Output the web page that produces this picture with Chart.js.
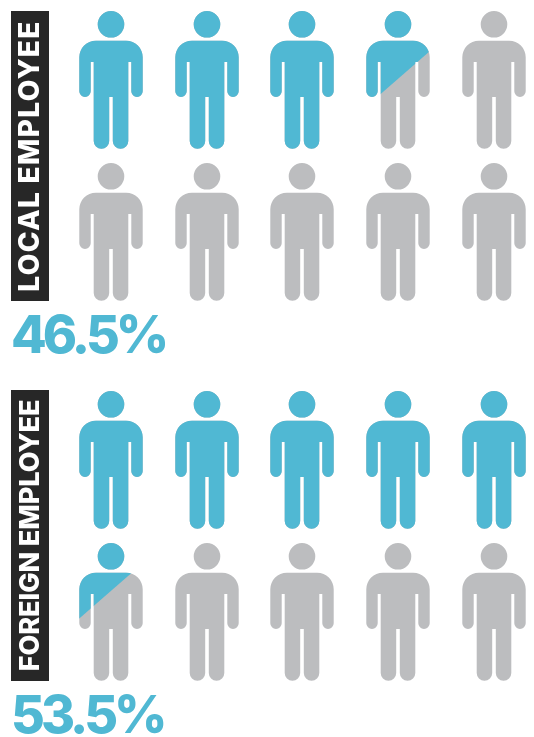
<!DOCTYPE html>
<html><head><meta charset="utf-8">
<style>html,body{margin:0;padding:0;background:#fff;overflow:hidden}
canvas{position:absolute;left:0;display:block}</style>
<script src="https://cdn.jsdelivr.net/npm/chart.js@4"></script></head>
<body>
<canvas id="c0" width="534" height="357" style="top:0;width:534px;height:357px"></canvas>
<canvas id="c1" width="534" height="357" style="top:380px;width:534px;height:357px"></canvas>
<script>
const groupNames = ['LOCAL EMPLOYEE', 'FOREIGN EMPLOYEE'];
const shareLabels = ['46.5%', '53.5%'];
const filledIcons = [3.65, 5.35];
const columns = [0, 1, 2, 3, 4];
const rows = [0, 1];

const BLUE = '#50b8d3', GREY = '#bcbdbf', DARK = '#272727';
const IW = 66, IH = 140, CX = 33, TOP = 1;
const nameSpacing = ['1.35px', '-0.05px'];
const nameSize = [28, 27];
const yMin = [-0.45, -0.457];
const yMax = [1.45, 1.451];

function personPath(c) {
  const t = y => TOP + y;
  c.beginPath();
  c.arc(CX, t(13.3), 13.3, 0, Math.PI * 2);
  c.closePath();
  const X = x => CX + x;
  const y0 = t(29.7), armpit = t(51), armEnd = t(86), crotch = t(86), foot = t(137.7);
  const R = 16.5;
  c.moveTo(X(-15), y0);
  c.lineTo(X(15), y0);
  c.arcTo(X(31.7), y0, X(31.7), y0 + R, R);
  c.lineTo(X(31.7), armEnd - 5.7);
  c.arc(X(26), armEnd - 5.7, 5.7, 0, Math.PI);
  c.lineTo(X(20.3), armpit);
  c.lineTo(X(17.3), armpit);
  c.lineTo(X(17.3), foot - 7.75);
  c.arc(X(9.55), foot - 7.75, 7.75, 0, Math.PI);
  c.lineTo(X(1.8), crotch);
  c.lineTo(X(-1.8), crotch);
  c.lineTo(X(-1.8), foot - 7.75);
  c.arc(X(-9.55), foot - 7.75, 7.75, 0, Math.PI);
  c.lineTo(X(-17.3), armpit);
  c.lineTo(X(-20.3), armpit);
  c.lineTo(X(-20.3), armEnd - 5.7);
  c.arc(X(-26), armEnd - 5.7, 5.7, 0, Math.PI);
  c.lineTo(X(-31.7), y0 + R);
  c.arcTo(X(-31.7), y0, X(-15), y0, R);
  c.closePath();
}

function makeIcon(fill) {
  const cv = document.createElement('canvas');
  cv.width = IW; cv.height = IH;
  const c = cv.getContext('2d');
  personPath(c);
  c.fillStyle = GREY;
  c.fill();
  if (fill > 0) {
    c.save();
    personPath(c);
    c.clip();
    c.fillStyle = BLUE;
    if (fill >= 1) {
      c.fillRect(0, 0, IW, IH);
    } else {
      const slope = -0.87;
      const mid = TOP + 47.8 + (fill - 0.35) * 67;
      c.beginPath();
      c.moveTo(0, 0);
      c.lineTo(IW, 0);
      c.lineTo(IW, mid + slope * (IW - CX));
      c.lineTo(0, mid + slope * (0 - CX));
      c.closePath();
      c.fill();
    }
    c.restore();
  }
  return cv;
}

const backing = {
  id: 'backing',
  beforeDraw(chart) {
    const y = chart.scales.y, a = chart.chartArea, c = chart.ctx;
    c.save();
    c.fillStyle = DARK;
    c.fillRect(y.left, a.top, 38, a.bottom - a.top);
    c.restore();
    c.imageSmoothingEnabled = false;
    c.letterSpacing = '-4px';
    if (!y._spaced) {
      y._spaced = true;
      const draw = y.drawTitle;
      y.drawTitle = function () {
        const keep = c.letterSpacing;
        c.letterSpacing = nameSpacing[chart.options.groupIndex];
        draw.call(this);
        c.letterSpacing = keep;
      };
    }
  }
};

groupNames.forEach((name, g) => {
  const points = [], icons = [];
  rows.forEach(r => columns.forEach(col => {
    const i = r * columns.length + col;
    points.push({ x: col, y: r });
    icons.push(makeIcon(Math.max(0, Math.min(1, filledIcons[g] - i))));
  }));
  new Chart(document.getElementById('c' + g), {
    type: 'scatter',
    data: { datasets: [{ label: name, data: points, clip: false,
      pointStyle: ctx => icons[ctx.dataIndex], pointRadius: 10 }] },
    plugins: [backing],
    options: {
      groupIndex: g,
      responsive: false, animation: false, events: [],
      layout: { autoPadding: false, padding: { left: 11, top: g ? 10 : 11, right: 2, bottom: 0 } },
      plugins: {
        legend: { display: false }, tooltip: { enabled: false },
        title: { display: true, text: shareLabels[g], position: 'bottom', align: 'start',
          color: BLUE, font: { family: 'Inter', weight: 800, size: 52, lineHeight: '39px' },
          padding: { top: 17, bottom: 0 } }
      },
      scales: {
        x: { type: 'linear', display: false, min: -0.5, max: 4.4 },
        y: { type: 'linear', reverse: true, min: yMin[g], max: yMax[g],
          grid: { display: false }, border: { display: false },
          ticks: { display: false },
          afterFit(s) { s.width = 52; },
          title: { display: true, text: name, color: '#fff',
            font: { family: 'Inter', weight: 800, size: nameSize[g], lineHeight: 1 },
            padding: { top: 6, bottom: 0 } } }
      }
    }
  });
});
</script></body></html>
